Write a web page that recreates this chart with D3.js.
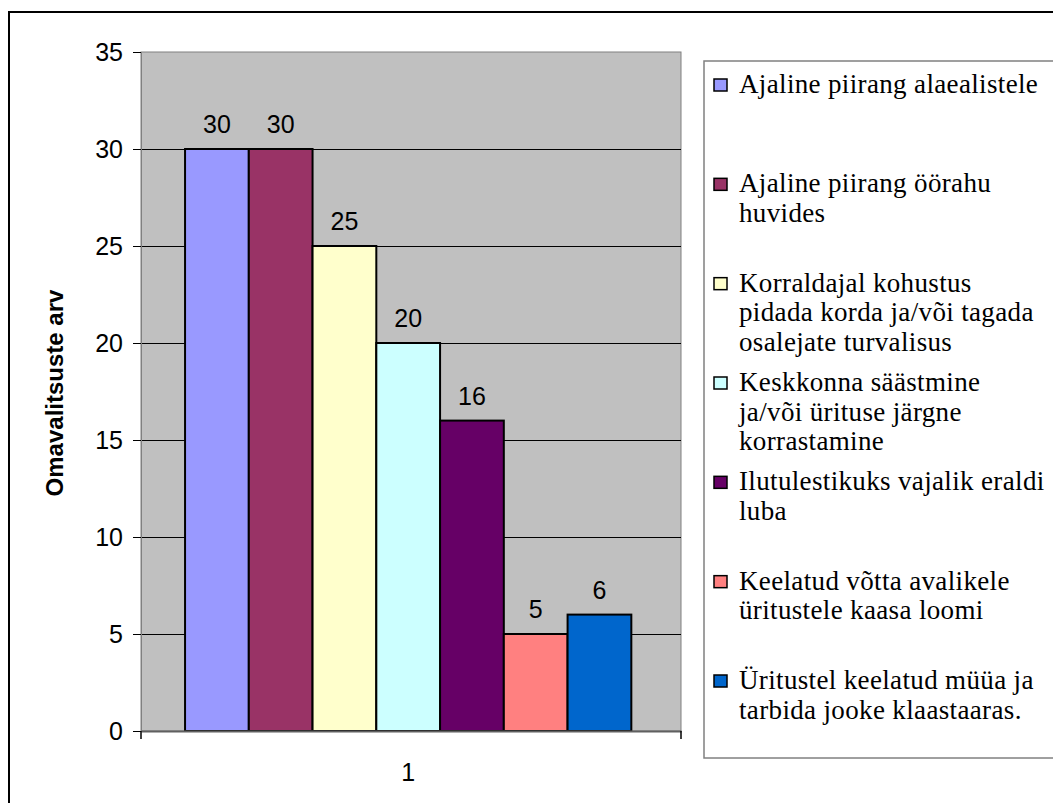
<!DOCTYPE html>
<html>
<head>
<meta charset="utf-8">
<script src="https://cdn.jsdelivr.net/npm/d3@7"></script>
<style>
  html, body { margin: 0; padding: 0; background: #fff; }
  svg { display: block; }
  .sans { font-family: "Liberation Sans", Arial, sans-serif; }
  .serif { font-family: "Liberation Serif", "Times New Roman", "DejaVu Serif", serif; }
</style>
</head>
<body>
<svg id="chart" width="1053" height="803"></svg>
<script>
// Categories, series and values
const categories = ["1"];
const seriesNames = [
  "Ajaline piirang alaealistele",
  "Ajaline piirang öörahu huvides",
  "Korraldajal kohustus pidada korda ja/või tagada osalejate turvalisus",
  "Keskkonna säästmine ja/või ürituse järgne korrastamine",
  "Ilutulestikuks vajalik eraldi luba",
  "Keelatud võtta avalikele üritustele kaasa loomi",
  "Üritustel keelatud müüa ja tarbida jooke klaastaaras."
];
// legend lines, wrapped as shown in the legend box
const legendLines = [
  ["Ajaline piirang alaealistele"],
  ["Ajaline piirang öörahu", "huvides"],
  ["Korraldajal kohustus", "pidada korda ja/või tagada", "osalejate turvalisus"],
  ["Keskkonna säästmine", "ja/või ürituse järgne", "korrastamine"],
  ["Ilutulestikuks vajalik eraldi", "luba"],
  ["Keelatud võtta avalikele", "üritustele kaasa loomi"],
  ["Üritustel keelatud müüa ja", "tarbida jooke klaastaaras."]
];
const values = [30, 30, 25, 20, 16, 5, 6];
const colors = ["#9999FF", "#993366", "#FFFFCC", "#CCFFFF", "#660066", "#FF8080", "#0066CC"];
const yTicks = [0, 5, 10, 15, 20, 25, 30, 35];
const yTitle = "Omavalitsuste arv";

const svg = d3.select("#chart");

// outer chart frame
svg.append("rect")
  .attr("x", 9).attr("y", 12)
  .attr("width", 1100).attr("height", 900)
  .attr("fill", "#fff").attr("stroke", "#000").attr("stroke-width", 2);

const plot = { left: 141, right: 681, top: 52, bottom: 731 };

const y = d3.scaleLinear().domain([0, 35]).range([plot.bottom, plot.top]);
const x0 = d3.scaleBand().domain(categories).range([plot.left, plot.right])
  .paddingInner(0).paddingOuter(0.105).align(0.47);
const x1 = d3.scaleBand().domain(d3.range(values.length)).range([0, x0.bandwidth()]).padding(0);

// plot area background
svg.append("rect")
  .attr("x", plot.left).attr("y", plot.top)
  .attr("width", plot.right - plot.left).attr("height", plot.bottom - plot.top)
  .attr("fill", "#C0C0C0").attr("stroke", "#808080").attr("stroke-width", 1);

// horizontal gridlines
svg.append("g").selectAll("line")
  .data(yTicks.filter(d => d > 0 && d < 35))
  .join("line")
  .attr("x1", plot.left).attr("x2", plot.right)
  .attr("y1", d => Math.round(y(d)) + 0.5).attr("y2", d => Math.round(y(d)) + 0.5)
  .attr("stroke", "#000").attr("stroke-width", 1);

// y axis
const yAxis = d3.axisLeft(y).tickValues(yTicks).tickSize(8).tickPadding(10).tickFormat(d3.format("d"));
const gy = svg.append("g").attr("transform", `translate(${plot.left},0)`).call(yAxis);
gy.attr("font-family", null).attr("font-size", null);
gy.select(".domain").attr("stroke", "#808080");
gy.selectAll(".tick line").attr("stroke", "#000");
gy.selectAll(".tick text")
  .attr("class", "sans")
  .attr("font-size", 25).attr("fill", "#000");

// bars
const g = svg.append("g");
g.selectAll("rect")
  .data(values)
  .join("rect")
  .attr("x", (d, i) => x0("1") + x1(i))
  .attr("y", d => y(d))
  .attr("width", x1.bandwidth())
  .attr("height", d => y(0) - y(d))
  .attr("fill", (d, i) => colors[i])
  .attr("stroke", "#000").attr("stroke-width", 2);

// value labels
g.selectAll("text")
  .data(values)
  .join("text")
  .attr("class", "sans")
  .attr("x", (d, i) => x0("1") + x1(i) + x1.bandwidth() / 2)
  .attr("y", d => y(d) - 16)
  .attr("text-anchor", "middle")
  .attr("font-size", 25).attr("fill", "#000")
  .text(d => d);

// x axis
const xAxis = d3.axisBottom(x0).tickSize(0).tickPadding(32);
const gx = svg.append("g").attr("transform", `translate(0,${plot.bottom})`).call(xAxis);
gx.attr("font-family", null).attr("font-size", null);
gx.select(".domain").attr("stroke", "#606060").attr("stroke-width", 2);
gx.selectAll(".tick text")
  .attr("class", "sans")
  .attr("font-size", 25).attr("fill", "#000");
// boundary tick marks at the category edges
gx.append("g").selectAll("line")
  .data(x0.range())
  .join("line")
  .attr("x1", d => d).attr("x2", d => d)
  .attr("y1", 0).attr("y2", 8)
  .attr("stroke", "#000").attr("stroke-width", 1.5);

// y axis title
svg.append("text")
  .attr("class", "sans")
  .attr("transform", `translate(63,393) rotate(-90)`)
  .attr("text-anchor", "middle")
  .attr("font-weight", "bold")
  .attr("font-size", 24)
  .attr("letter-spacing", 0)
  .attr("fill", "#000")
  .text(yTitle);

// legend
const legend = svg.append("g");
legend.append("rect")
  .attr("x", 704).attr("y", 61)
  .attr("width", 400).attr("height", 697)
  .attr("fill", "#fff").attr("stroke", "#808080").attr("stroke-width", 1.5);

const entryTop = d3.scaleLinear().domain([0, seriesNames.length - 1]).range([85, 681]);
const items = legend.selectAll("g.item")
  .data(seriesNames)
  .join("g").attr("class", "item");
items.append("rect")
  .attr("x", 714).attr("y", (d, i) => entryTop(i) - 6)
  .attr("width", 13).attr("height", 12)
  .attr("fill", (d, i) => colors[i])
  .attr("stroke", "#000").attr("stroke-width", 1.5);
items.each(function (d, i) {
  const t = d3.select(this).append("text")
    .attr("class", "serif")
    .attr("font-size", 27)
    .attr("letter-spacing", 0.35)
    .attr("fill", "#000");
  legendLines[i].forEach((line, k) => {
    t.append("tspan")
      .attr("x", 739)
      .attr("y", entryTop(i) + 8 + k * 29.7)
      .text(line);
  });
});
</script>
</body>
</html>
